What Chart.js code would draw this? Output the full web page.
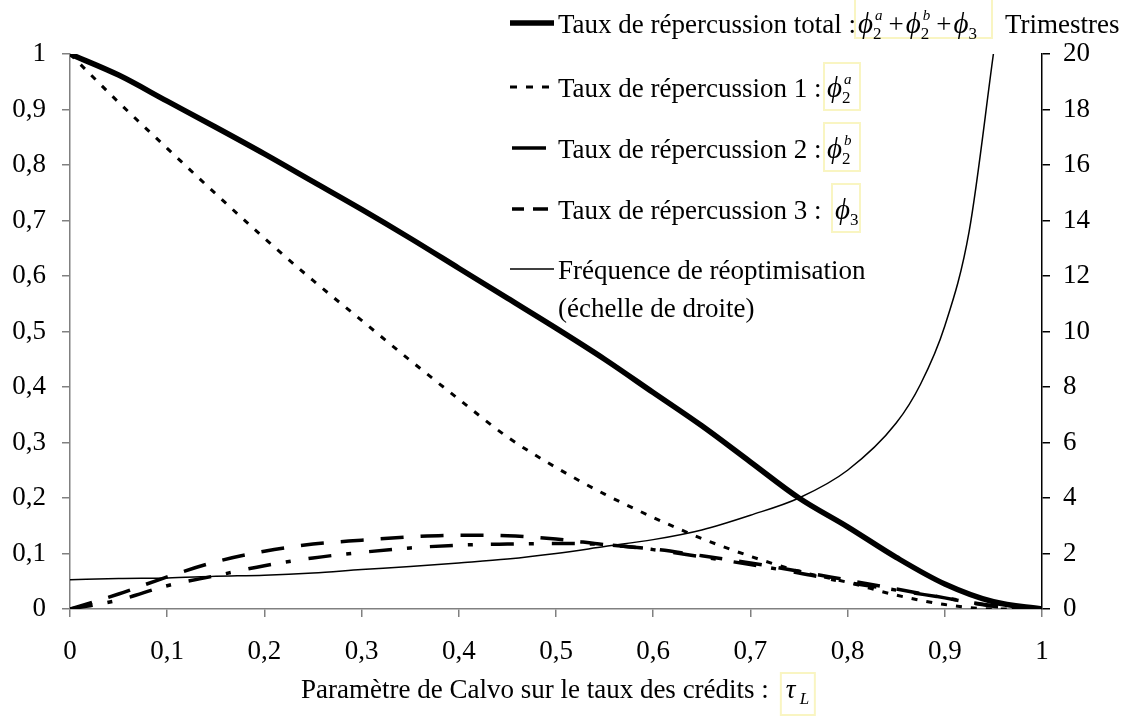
<!DOCTYPE html>
<html>
<head>
<meta charset="utf-8">
<script src="https://cdn.jsdelivr.net/npm/chart.js@4.4.1/dist/chart.umd.min.js"></script>
<style>
  html, body { margin: 0; padding: 0; background: #fff; }
  #wrap { width: 1128px; height: 717px; }
</style>
</head>
<body>
<div id="wrap"><canvas id="calvoChart" width="1128" height="717"></canvas></div>
<script>
// paramètre de Calvo (axe horizontal)
const tauGrid = [0, 0.05, 0.1, 0.15, 0.2, 0.25, 0.3, 0.35, 0.4, 0.45, 0.5,
                 0.55, 0.6, 0.65, 0.7, 0.75, 0.8, 0.85, 0.9, 0.95, 1];

// taux de répercussion (échelle de gauche)
const tauxTotal = [1.0, 0.962, 0.915, 0.868, 0.82, 0.77, 0.72, 0.668, 0.614, 0.56, 0.506,
                   0.45, 0.39, 0.33, 0.265, 0.2, 0.148, 0.093, 0.045, 0.013, 0];
const taux1 = [1.0, 0.913, 0.83, 0.748, 0.668, 0.592, 0.52, 0.448, 0.378, 0.31, 0.255,
               0.207, 0.165, 0.127, 0.095, 0.068, 0.048, 0.025, 0.008, 0, 0];
const taux2 = [0, 0.027, 0.058, 0.085, 0.104, 0.117, 0.124, 0.13, 0.133, 0.132, 0.126,
               0.116, 0.108, 0.096, 0.083, 0.068, 0.052, 0.036, 0.02, 0.005, 0];
const taux3 = [0, 0.016, 0.042, 0.06, 0.078, 0.092, 0.102, 0.11, 0.115, 0.117, 0.118,
               0.116, 0.107, 0.094, 0.08, 0.065, 0.048, 0.034, 0.02, 0.006, 0];

// fréquence de réoptimisation en trimestres (échelle de droite)
const tauReopt = [0, 0.05, 0.1, 0.15, 0.2, 0.25, 0.3, 0.35, 0.4, 0.45, 0.5, 0.55,
                  0.6, 0.65, 0.7, 0.75, 0.8, 0.85, 0.875, 0.9, 0.925, 0.95];
const freqReopt = [1.05, 1.1, 1.12, 1.18, 1.22, 1.3, 1.42, 1.53, 1.66, 1.8, 2.0, 2.25,
                   2.5, 2.85, 3.38, 4.0, 5.0, 6.7, 8.1, 10.2, 13.6, 20];

const SERIF = "'Liberation Serif', 'Times New Roman', serif";
const FS = 27;
const BOX_COLOR = "#f9f5c2";

function pts(xs, ys) {
  return xs.map((x, i) => ({ x: x, y: ys[i] }));
}

function fnt(size, italic) {
  return (italic ? "italic " : "") + size + "px " + SERIF;
}

function fmtComma(v) {
  return String(+v.toFixed(1)).replace(".", ",");
}

// petit rendu de formule : base + indice/exposant empilés
function drawMath(ctx, x, y, pieces) {
  pieces.forEach(p => {
    if (p.gap) x += p.gap;
    if (p.base) {
      ctx.font = fnt(p.size || FS, p.italic);
      ctx.fillText(p.base, x, y);
      x += ctx.measureText(p.base).width;
    }
    let w = 0;
    if (p.sub) {
      ctx.font = fnt(17, p.subItalic);
      ctx.fillText(p.sub, x, y + 6);
      w = ctx.measureText(p.sub).width;
    }
    if (p.sup) {
      ctx.font = fnt(15, true);
      ctx.fillText(p.sup, x + 2, y - 13);
      w = Math.max(w, ctx.measureText(p.sup).width + 2);
    }
    x += w;
  });
  return x;
}

const PHI = "\u03D5";
// échantillons de trait : [début, fin, motif]
const legendRows = [
  { text: "Taux de répercussion total :", base: 33, width: 5.5, sample: [510, 554, []],
    box: [855, -2, 137, 40],
    math: [{ base: PHI, italic: true, size: 29, sub: "2", sup: "a" }, { gap: 6, base: "+" },
           { gap: 2, base: PHI, italic: true, size: 29, sub: "2", sup: "b" }, { gap: 6, base: "+" },
           { gap: 2, base: PHI, italic: true, size: 29, sub: "3" }] },
  { text: "Taux de répercussion 1 :", base: 97, width: 3, sample: [510, 556, [7, 9]],
    box: [824, 63, 36, 47], math: [{ base: PHI, italic: true, size: 29, sub: "2", sup: "a" }] },
  { text: "Taux de répercussion 2 :", base: 158, width: 3.5, sample: [512, 546, []],
    box: [824, 123, 36, 48], math: [{ base: PHI, italic: true, size: 29, sub: "2", sup: "b" }] },
  { text: "Taux de répercussion 3 :", base: 219, width: 3.5, sample: [512, 548, [12, 9, 15]],
    box: [832, 184, 28, 48], math: [{ base: PHI, italic: true, size: 29, sub: "3" }] },
  { text: "Fréquence de réoptimisation", base: 279, width: 1.5, sample: [510, 554, []] },
  { text: "(échelle de droite)", base: 317 }
];

const textPlugin = {
  id: "textPlugin",
  afterDraw(chart) {
    const ctx = chart.ctx;
    ctx.save();
    ctx.fillStyle = "#000";
    ctx.textBaseline = "alphabetic";
    ctx.textAlign = "left";

    legendRows.forEach(r => {
      if (r.sample) {
        const s = r.sample;
        ctx.save();
        ctx.strokeStyle = "#000";
        ctx.lineWidth = r.width;
        ctx.setLineDash(s[2]);
        ctx.beginPath();
        ctx.moveTo(s[0], r.base - 10);
        ctx.lineTo(s[1], r.base - 10);
        ctx.stroke();
        ctx.restore();
      }
      ctx.font = fnt(FS, false);
      ctx.fillText(r.text, 558, r.base);
      if (r.box) {
        const b = r.box;
        ctx.save();
        ctx.strokeStyle = BOX_COLOR;
        ctx.lineWidth = 2;
        ctx.strokeRect(b[0], b[1], b[2], b[3]);
        ctx.restore();
        drawMath(ctx, b[0] + 3, r.base, r.math);
      }
    });

    ctx.font = fnt(FS, false);
    ctx.fillText("Trimestres", 1005, 33);

    // titre de l'axe horizontal
    const title = "Paramètre de Calvo sur le taux des crédits :";
    ctx.fillText(title, 301, 698);
    const bx = 301 + ctx.measureText(title).width + 12;
    ctx.save();
    ctx.strokeStyle = BOX_COLOR;
    ctx.lineWidth = 2;
    ctx.strokeRect(bx, 673, 34, 42);
    ctx.restore();
    drawMath(ctx, bx + 5, 698, [{ base: "\u03C4", italic: true, sub: " L", subItalic: true }]);
    ctx.restore();
  }
};

const tickFont = { family: SERIF, size: FS };

new Chart(document.getElementById("calvoChart"), {
  type: "line",
  data: {
    datasets: [
      { label: "Fréquence de réoptimisation", data: pts(tauReopt, freqReopt), yAxisID: "y2",
        borderColor: "#000", borderWidth: 1.5, cubicInterpolationMode: "monotone" },
      { label: "Taux de répercussion 3", data: pts(tauGrid, taux3), yAxisID: "y",
        borderColor: "#000", borderWidth: 3.5, borderDash: [23, 15, 5, 18],
        cubicInterpolationMode: "monotone" },
      { label: "Taux de répercussion 2", data: pts(tauGrid, taux2), yAxisID: "y",
        borderColor: "#000", borderWidth: 3.5, borderDash: [23, 17],
        cubicInterpolationMode: "monotone" },
      { label: "Taux de répercussion 1", data: pts(tauGrid, taux1), yAxisID: "y",
        borderColor: "#000", borderWidth: 3, borderDash: [6, 9],
        cubicInterpolationMode: "monotone" },
      { label: "Taux de répercussion total", data: pts(tauGrid, tauxTotal), yAxisID: "y",
        borderColor: "#000", borderWidth: 5.5, cubicInterpolationMode: "monotone" }
    ]
  },
  options: {
    responsive: false,
    animation: false,
    events: [],
    elements: { point: { radius: 0 } },
    layout: { padding: { top: 54, left: 0, right: 0, bottom: 0 } },
    plugins: { legend: { display: false }, tooltip: { enabled: false } },
    scales: {
      x: {
        type: "linear", min: 0, max: 1,
        grid: { drawOnChartArea: false, drawTicks: true, tickLength: 8, tickColor: "#808080", lineWidth: 1.5 },
        border: { color: "#808080", width: 1.5 },
        ticks: { stepSize: 0.1, color: "#000", font: tickFont, padding: 19, maxRotation: 0,
                 callback: v => fmtComma(v) },
        afterFit: s => { s.height = 108; }
      },
      y: {
        position: "left", min: 0, max: 1,
        grid: { drawOnChartArea: false, drawTicks: true, tickLength: 8, tickColor: "#808080", lineWidth: 1.5 },
        border: { color: "#808080", width: 1.5 },
        ticks: { stepSize: 0.1, color: "#000", font: tickFont, padding: 16,
                 callback: v => fmtComma(v) },
        afterFit: s => { s.width = 70; }
      },
      y2: {
        position: "right", min: 0, max: 20,
        grid: { drawOnChartArea: false, drawTicks: true, tickLength: 8, tickColor: "#000", lineWidth: 1.5 },
        border: { color: "#000", width: 1.5 },
        ticks: { stepSize: 2, color: "#000", font: tickFont, padding: 13 },
        afterFit: s => { s.width = 86; }
      }
    }
  },
  plugins: [textPlugin]
});
</script>
</body>
</html>
